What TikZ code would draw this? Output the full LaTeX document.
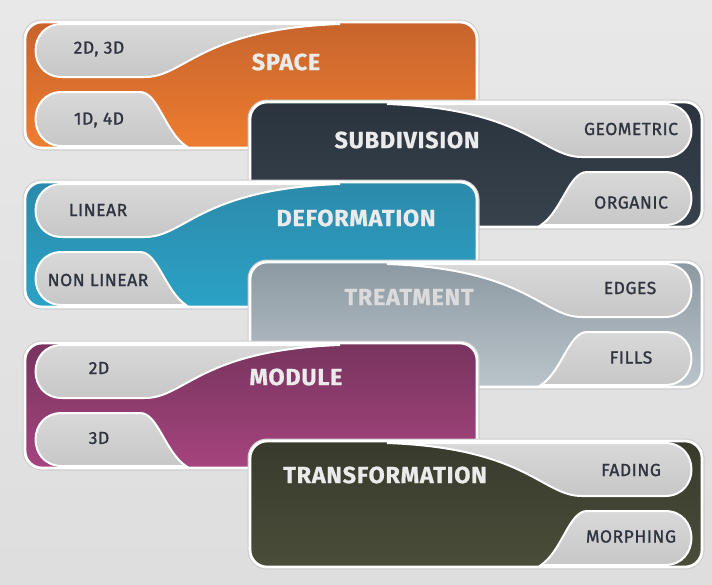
\documentclass[tikz,border=0pt]{standalone}
\usepackage{fontspec}
\setmainfont{Fira Sans}
\newfontfamily\titlef[LetterSpace=3,FakeBold=0.6]{Fira Sans}
\newfontfamily\labf[LetterSpace=3,FakeBold=1.2]{Fira Sans}
\definecolor{labc}{HTML}{2E3440}
\definecolor{spaceT}{HTML}{C7642C}
\definecolor{spaceB}{HTML}{EE7D30}
\definecolor{subT}{HTML}{2A333E}
\definecolor{subB}{HTML}{38424D}
\definecolor{defT}{HTML}{2C8AAB}
\definecolor{defB}{HTML}{2BA2C6}
\definecolor{treT}{HTML}{8D99A2}
\definecolor{treB}{HTML}{BAC4CA}
\definecolor{modT}{HTML}{77345E}
\definecolor{modB}{HTML}{A6447F}
\definecolor{traT}{HTML}{383B2C}
\definecolor{traB}{HTML}{4A4D39}
\newcommand\panelbody[3]{%
  \draw[draw=black!20,line width=5pt,rounded corners=17pt] (25,0) rectangle (477,#1);
  \path[framebox,top color=#2,bottom color=#3] (25,0) rectangle (477,#1);
  \path[pill] (62,2) -- (340,2) .. controls (200,7) and (185,55) .. (145,55) -- (62,55)
     .. controls (26.7,55) and (26.7,2) .. (62,2) -- cycle;
  \path[pill] (62,70) -- (140,70) .. controls (158,70) and (165,{#1-16}) .. (186,{#1-2}) -- (62,{#1-2})
     .. controls (26.7,{#1-2}) and (26.7,70) .. (62,70) -- cycle;
}
\newcommand\panelL[4]{\begin{scope}[shift={(0,#1)}]\panelbody{#2}{#3}{#4}\end{scope}}
\newcommand\panelR[4]{\begin{scope}[shift={(727,#1)},xscale=-1]\panelbody{#2}{#3}{#4}\end{scope}}
\begin{document}
\begin{tikzpicture}[x=1pt,y=-1pt,
  framebox/.style={draw=white,line width=2.8pt,rounded corners=17pt},
  pill/.style={draw=white,line width=2pt,top color=black!15,middle color=black!2,bottom color=black!22},
  ttl/.style={font=\titlef\bfseries\fontsize{23.5}{25}\selectfont,text=black!8,inner sep=0pt},
  lab/.style={font=\labf\fontsize{17.5}{19}\selectfont,text=labc,inner sep=0pt}]
\useasboundingbox (0,0) rectangle (712,584);
\shade[top color=black!9,bottom color=black!13] (0,0) rectangle (712,584);

\panelL{22}{126}{spaceT}{spaceB}
\node[ttl] (space) at (286,62) {SPACE};
\node[lab] (s1) at (99,49) {2D, 3D};
\node[lab] (s2) at (99,120) {1D, 4D};

\panelR{102}{125}{subT}{subB}
\node[ttl] (subdivision) at (407,140) {SUBDIVISION};
\node[lab] (g1) at (631,129) {GEOMETRIC};
\node[lab] (g2) at (631,202.5) {ORGANIC};

\panelL{182}{125}{defT}{defB}
\node[ttl] (deformation) at (356,218) {DEFORMATION};
\node[lab] (d1) at (98,210) {LINEAR};
\node[lab] (d2) at (98,280) {NON LINEAR};

\panelR{262}{125}{treT}{treB}
\node[ttl,text=black!14] (treatment) at (409,297) {TREATMENT};
\node[lab] (t1) at (630,288) {EDGES};
\node[lab] (t2) at (631,357.5) {FILLS};

\panelL{343}{125}{modT}{modB}
\node[ttl] (module) at (296,377) {MODULE};
\node[lab] (m1) at (99,368) {2D};
\node[lab] (m2) at (99,438) {3D};

\panelR{441}{126}{traT}{traB}
\node[ttl] (transformation) at (385,475) {TRANSFORMATION};
\node[lab] (f1) at (631,470) {FADING};
\node[lab] (f2) at (631,536.5) {MORPHING};
\end{tikzpicture}
\end{document}
